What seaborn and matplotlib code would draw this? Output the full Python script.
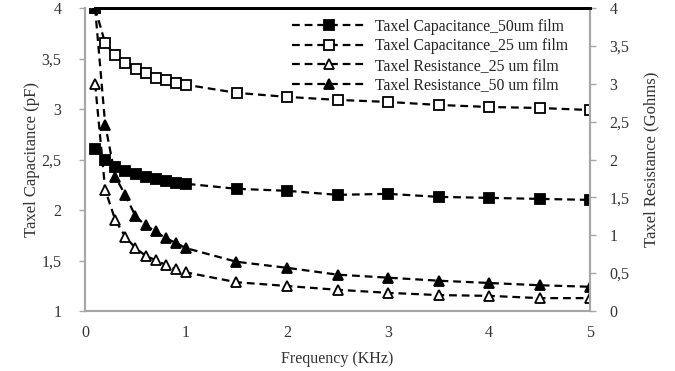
import matplotlib
matplotlib.use("Agg")
import matplotlib.pyplot as plt
import seaborn as sns
import pandas as pd
from matplotlib.ticker import FuncFormatter, MultipleLocator

freq = [0.1, 0.2, 0.3, 0.4, 0.5, 0.6, 0.7, 0.8, 0.9, 1.0, 1.5, 2.0, 2.5, 3.0, 3.5, 4.0, 4.5, 5.0]
cap_50 = [2.60, 2.50, 2.43, 2.39, 2.36, 2.33, 2.31, 2.29, 2.27, 2.26, 2.21, 2.19, 2.15, 2.16, 2.13, 2.12, 2.11, 2.10]
cap_25 = [4.00, 3.65, 3.53, 3.46, 3.40, 3.36, 3.31, 3.29, 3.26, 3.24, 3.16, 3.12, 3.09, 3.07, 3.04, 3.02, 3.01, 2.99]
res_25 = [3.00, 1.60, 1.20, 0.98, 0.83, 0.73, 0.67, 0.61, 0.55, 0.51, 0.38, 0.33, 0.28, 0.24, 0.21, 0.20, 0.17, 0.17]
res_50 = [4.00, 2.46, 1.77, 1.53, 1.25, 1.13, 1.05, 0.96, 0.90, 0.83, 0.65, 0.57, 0.48, 0.44, 0.40, 0.37, 0.34, 0.32]

labels = ["Taxel Capacitance_50um film", "Taxel Capacitance_25 um film",
          "Taxel Resistance_25 um film", "Taxel Resistance_50 um film"]

sns.set_theme(style="white")
plt.rcParams['font.family'] = ['Liberation Serif', 'DejaVu Serif']

fig = plt.figure(figsize=(6.75, 3.71), dpi=100)
ax = fig.add_axes([85/675, 1-311/371, 505/675, 303/371])
ax2 = ax.twinx()

df = pd.DataFrame({"f": freq, "c50": cap_50, "c25": cap_25, "r25": res_25, "r50": res_50})
ls = (0, (3.5, 2.2))
common = dict(color="black", linestyle=ls, linewidth=1.6, markersize=7, markeredgewidth=1.3,
              markeredgecolor="black")

sns.lineplot(data=df, x="f", y="c50", ax=ax, marker="s", markerfacecolor="black", label=labels[0], legend=False, **common)
sns.lineplot(data=df, x="f", y="c25", ax=ax, marker="s", markerfacecolor="white", label=labels[1], legend=False, **common)
sns.lineplot(data=df, x="f", y="r25", ax=ax2, marker="^", markerfacecolor="white", label=labels[2], legend=False, **common)
sns.lineplot(data=df, x="f", y="r50", ax=ax2, marker="^", markerfacecolor="black", label=labels[3], legend=False, **common)

for a in (ax, ax2):
    a.set_xlim(0, 5)
    for s in a.spines.values():
        s.set_color("#a6a6a6")
        s.set_linewidth(1.5)
    a.spines["top"].set_color("black")
    a.spines["top"].set_linewidth(2)
    a.spines["top"].set_bounds(0.1, 5)
    a.grid(False)
    a.tick_params(direction="out", length=4, width=1, color="#a6a6a6", labelsize=11.5, labelcolor="#333333")

fmt = FuncFormatter(lambda v, p: ("%g" % v).replace(".", ","))
ax.set_ylim(1, 4)
ax.yaxis.set_major_locator(MultipleLocator(0.5))
ax.yaxis.set_major_formatter(fmt)
ax2.set_ylim(0, 4)
ax2.yaxis.set_major_locator(MultipleLocator(0.5))
ax2.yaxis.set_major_formatter(fmt)
ax.xaxis.set_major_locator(MultipleLocator(1))
ax.tick_params(axis="x", pad=6)
ax.tick_params(axis="y", pad=13)
ax2.tick_params(axis="y", pad=10)

ax.set_xlabel("Frequency (KHz)", fontsize=11.5, color="#333333", labelpad=7)
ax.set_ylabel("Taxel Capacitance (pF)", fontsize=12, color="#333333", labelpad=1)
ax2.set_ylabel("Taxel Resistance (Gohms)", fontsize=12, color="#333333", labelpad=10)

h1, l1 = ax.get_legend_handles_labels()
h2, l2 = ax2.get_legend_handles_labels()
leg = ax2.legend(h1 + h2, l1 + l2, loc="upper right", bbox_to_anchor=(0.975, 0.995), frameon=False,
                 fontsize=11.3, handlelength=4.8, handletextpad=0.5, labelspacing=0.22, borderaxespad=0.2)
for t in leg.get_texts():
    t.set_color("#222222")

fig.savefig("out.png", dpi=100)
